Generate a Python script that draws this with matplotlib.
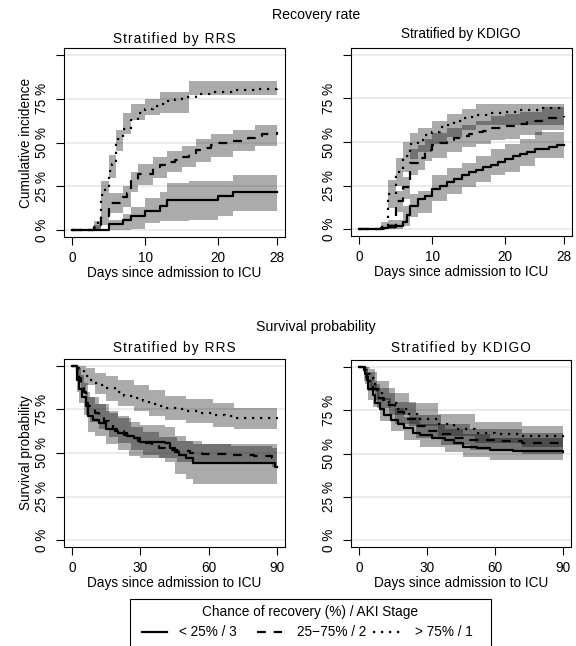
import matplotlib
matplotlib.use("Agg")
import matplotlib.pyplot as plt
from matplotlib.lines import Line2D
from matplotlib.patches import Rectangle

plt.rcParams['font.family'] = ['Liberation Sans', 'DejaVu Sans']

W, H = 576, 646

# ---- data (percent) ----
# group 1: solid (< 25% / 3), group 2: dashed (25-75% / 2), group 3: dotted (> 75% / 1)

# recovery, stratified by RRS
rr_t1 = [0, 5, 7, 8, 10, 12, 13, 20, 22, 28]
rr_v1 = [0, 3.3, 6, 8, 11, 14, 17, 19.3, 21.6, 21.6]
rr_bt1 = [5, 7, 8, 10, 12, 13, 16, 20, 22, 28]
rr_lo1 = [0, 0, 0.5, 4, 5, 5, 6, 8, 11, 11]
rr_hi1 = [6, 9, 13, 18.5, 22, 26.6, 28, 28, 31.6, 31.6]

rr_t2 = [0, 3, 4, 5, 7, 7.5, 8, 9, 11, 12, 13, 14, 15, 16, 17, 18, 19, 20, 22, 24, 25, 26, 28]
rr_v2 = [0, 1, 8, 15.5, 19, 21, 28, 32, 36, 37, 39, 40, 42, 44, 46, 47, 48.5, 49.5, 51, 52.5, 54, 55, 56]
rr_bt2 = [3, 4, 5, 7, 8, 9, 11, 13, 15, 17, 19, 22, 25, 28]
rr_lo2 = [0, 3, 10, 13, 22, 26, 30, 33, 36, 39, 42, 45, 48, 51]
rr_hi2 = [3, 12, 21, 25, 33, 38, 42, 45, 48, 52, 55, 57, 60, 61]

rr_t3 = [0, 3, 3.5, 4, 4.5, 5, 5.5, 6, 7, 8, 9, 10, 11, 12, 13, 14, 15, 17, 19, 22, 25, 28]
rr_v3 = [0, 1.5, 5, 20, 24, 34, 38, 52, 58, 63, 67, 69, 71, 72, 73.5, 75, 76, 78, 79, 80, 80.5, 81]
rr_bt3 = [3, 4, 5, 6, 7, 8, 10, 12, 16, 28]
rr_lo3 = [0, 12, 30, 45, 55, 63, 66, 67, 77, 77]
rr_hi3 = [5, 28, 43, 57, 67, 72, 75, 79, 85, 85]

# recovery, stratified by KDIGO
rk_t1 = [0, 3, 4, 5, 6, 6.5, 7, 8, 9, 10, 11, 12, 13, 14, 15, 16, 17, 18, 19, 20, 21, 22, 23, 24, 26, 27, 28]
rk_v1 = [0, 0.5, 1, 2, 4, 8, 13, 17, 19, 23, 25, 27, 28.5, 31, 33, 34, 35.5, 37, 38.5, 40, 42, 43, 44.5, 46, 47, 48, 48]
rk_bt1 = [4, 5, 6, 7, 8, 10, 12, 14, 16, 18, 20, 22, 24, 28]
rk_lo1 = [0, 0, 2, 7, 9, 16, 20, 24, 27, 31, 33, 36, 41, 41]
rk_hi1 = [3, 5, 13, 20, 22, 31, 35, 38, 42, 46, 49, 52, 55.5, 55.5]

rk_t2 = [0, 4, 5, 6, 7, 8, 9, 10, 11, 12, 13, 14, 15, 16, 17, 18, 20, 22, 23, 25, 28]
rk_v2 = [0, 2, 16, 24, 38, 41, 45.5, 48, 49.5, 51, 52.5, 53.5, 54.5, 55.5, 56.5, 58, 59, 60.5, 62, 64, 65]
rk_bt2 = [4, 5, 6, 7, 8, 9, 10, 12, 14, 16, 18, 20, 22, 25, 28]
rk_lo2 = [0, 10, 17, 31, 34, 39, 41, 44, 47, 49, 51, 52, 54, 57, 58]
rk_hi2 = [5, 22, 30, 46, 48, 52, 55, 58, 60, 62, 65, 66, 67, 70, 71]

rk_t3 = [0, 3, 4, 5, 6, 7, 8, 9, 10, 11, 12, 13, 14, 15, 16, 18, 20, 22, 25, 28]
rk_v3 = [0, 1, 20, 33, 42, 49, 51, 54, 56, 58.5, 60, 62, 63.5, 64.5, 65.5, 66.5, 67.5, 68.5, 69.5, 70]
rk_bt3 = [3, 4, 5, 6, 7, 8, 10, 12, 14, 16, 28]
rk_lo3 = [0, 12, 25, 33, 40, 44, 49, 53, 57, 60, 65]
rk_hi3 = [4, 28, 41, 50, 55, 58, 62, 66, 69, 72, 74.5]

# survival, stratified by RRS
sr_t1 = [0, 2, 3, 4.5, 6, 7, 9, 12, 15, 19, 20, 24, 27, 30, 41, 43, 45, 47, 50, 53, 89, 90]
sr_v1 = [100, 92, 87, 82, 77, 71, 69, 67.5, 64, 62.5, 61.5, 60, 58.5, 56.5, 55.5, 53, 50.5, 49, 47, 44, 42, 42]
sr_bt1 = [2, 3, 5, 7, 10, 15, 20, 25, 30, 41, 45, 50, 53, 90]
sr_lo1 = [85, 79, 72, 62, 60, 55, 52, 48, 47, 45, 38, 35, 32, 30]
sr_hi1 = [98, 95, 90, 82, 78, 74, 71, 68, 66, 65, 60, 57, 55, 55]

sr_t2 = [0, 2, 3, 4, 5, 6, 7, 8, 10, 12, 14, 16, 18, 20, 23, 26, 29, 31, 35, 38, 42, 46, 52, 57, 70, 80, 88, 90]
sr_v2 = [100, 96, 93, 90, 85, 79, 77, 75, 73, 71, 68.5, 66, 64, 62.5, 60.5, 58.5, 57, 55.5, 54, 53, 52, 51, 50, 49.5, 49, 48, 47, 47]
sr_bt2 = [2, 4, 6, 8, 12, 16, 20, 26, 31, 38, 46, 57, 70, 88, 90]
sr_lo2 = [92, 84, 72, 68, 64, 59, 56, 52, 49, 47, 45, 44, 44, 42, 42]
sr_hi2 = [99, 95, 85, 82, 78, 73, 70, 65, 62, 59, 57, 55, 54, 53, 53]

sr_t3 = [0, 2.5, 3, 5, 6, 8, 10, 12, 15, 19, 23, 27, 31, 34, 38, 41, 46, 50, 56, 62, 67, 71, 90]
sr_v3 = [100, 98.7, 98, 96, 94, 92, 90.5, 89, 87.5, 85, 83, 81.5, 80, 78, 77, 75.7, 75, 74, 73, 72, 71, 70, 69.5]
sr_bt3 = [2.5, 6, 10, 15, 20, 27, 34, 41, 50, 62, 71, 90]
sr_lo3 = [95, 89, 84, 80, 77, 74, 71, 69, 67, 65, 64, 64]
sr_hi3 = [100, 99, 96, 94, 92, 89, 86, 83, 81, 79, 76, 74]

# survival, stratified by KDIGO
sk_t1 = [0, 2.5, 3.5, 4, 6, 7, 9, 11, 14, 17, 20, 24, 27, 32, 38, 42, 46, 52, 58, 68, 90]
sk_v1 = [100, 96, 92.5, 87, 84, 79, 75.5, 72.5, 69.5, 67, 65, 62, 60.5, 59, 58, 56, 54, 53, 52, 51.4, 51]
sk_bt1 = [2.5, 4, 6, 9, 14, 20, 27, 38, 46, 58, 90]
sk_lo1 = [90, 81, 77, 69, 63, 58, 54, 51, 48, 46, 45]
sk_hi1 = [99, 93, 90, 82, 76, 71, 67, 64, 61, 59, 57]

sk_t2 = [0, 2.3, 3, 4, 6, 8, 11, 16, 20, 25, 31, 36, 42, 49, 60, 72, 90]
sk_v2 = [100, 97, 94, 91.7, 87, 82, 78, 74, 69.7, 65.8, 63, 61, 59, 58, 57, 56, 56]
sk_bt2 = [2.3, 4, 8, 16, 25, 36, 49, 72, 90]
sk_lo2 = [92, 86, 76, 67, 59, 55, 52, 50, 50]
sk_hi2 = [100, 97, 88, 80, 72, 67, 64, 62, 62]

sk_t3 = [0, 2.5, 3, 5, 7, 10, 13, 17, 22, 27, 35, 42, 51, 60, 72, 90]
sk_v3 = [100, 98, 96, 93.7, 87, 81, 79, 75.8, 72.6, 69.7, 66.8, 64, 62, 61, 60, 59]
sk_bt3 = [2.5, 5, 7, 13, 22, 35, 51, 72, 90]
sk_lo3 = [94, 88, 81, 72, 66, 60, 56, 54, 53]
sk_hi3 = [100, 99, 92, 85, 79, 73, 68, 66, 65]

y_ticks = [0, 25, 50, 75, 100]
y_labels = ['0 %', '25 %', '50 %', '75 %', '']
legend_labels = ['< 25% / 3', '25\u221275% / 2', '> 75% / 1']

styles = ['-', (0, (4, 3.5)), (0, (1, 2.6))]
FS = 9.8


def spaced(s):
    # wide letter spacing as in the original titles
    return '\u200a'.join(s)


def panel(box, curves, bands, xmax, xticks, ylabel=None):
    l, t, r, b = box
    ax = fig.add_axes([l / W, 1 - b / H, (r - l) / W, (b - t) / H])
    for bt, lo, hi in bands:
        ax.fill_between(bt, lo, hi, step='post', color='black', alpha=0.33, lw=0)
    for (tt, vv), ls in zip(curves, styles):
        ax.step(tt, vv, where='post', color='black', lw=1.6, ls=ls)
    ax.set_xlim(-0.04 * xmax, 1.04 * xmax)
    ax.set_ylim(-4, 104)
    ax.set_xticks(xticks)
    ax.set_yticks(y_ticks, labels=y_labels, rotation=90, va='center')
    ax.grid(axis='y', color='#ebebeb', lw=1.4)
    ax.set_axisbelow(True)
    ax.tick_params(length=6, width=0.8, labelsize=FS, color='black')
    ax.tick_params(axis='y', pad=5)
    ax.tick_params(axis='x', pad=4)
    for sp in ax.spines.values():
        sp.set_linewidth(0.8)
    ax.set_xlabel('Days since admission to ICU', fontsize=FS, labelpad=1)
    if ylabel:
        ax.set_ylabel(ylabel, fontsize=FS, labelpad=1)
    return ax


fig = plt.figure(figsize=(W / 100, H / 100), dpi=100)

panel((64, 48, 285, 237),
      [(rr_t1, rr_v1), (rr_t2, rr_v2), (rr_t3, rr_v3)],
      [(rr_bt1, rr_lo1, rr_hi1), (rr_bt2, rr_lo2, rr_hi2), (rr_bt3, rr_lo3, rr_hi3)],
      28, [0, 10, 20, 28], 'Cumulative incidence')
panel((351, 48, 572, 236),
      [(rk_t1, rk_v1), (rk_t2, rk_v2), (rk_t3, rk_v3)],
      [(rk_bt1, rk_lo1, rk_hi1), (rk_bt2, rk_lo2, rk_hi2), (rk_bt3, rk_lo3, rk_hi3)],
      28, [0, 10, 20, 28])
panel((64, 359, 285, 547),
      [(sr_t1, sr_v1), (sr_t2, sr_v2), (sr_t3, sr_v3)],
      [(sr_bt1, sr_lo1, sr_hi1), (sr_bt2, sr_lo2, sr_hi2), (sr_bt3, sr_lo3, sr_hi3)],
      90, [0, 30, 60, 90], 'Survival probability')
panel((351, 360, 571, 547),
      [(sk_t1, sk_v1), (sk_t2, sk_v2), (sk_t3, sk_v3)],
      [(sk_bt1, sk_lo1, sk_hi1), (sk_bt2, sk_lo2, sk_hi2), (sk_bt3, sk_lo3, sk_hi3)],
      90, [0, 30, 60, 90])


def ftext(x, y, s, **kw):
    fig.text(x / W, 1 - y / H, s, ha=kw.pop('ha', 'center'), va=kw.pop('va', 'center'),
             fontsize=kw.pop('fontsize', FS), **kw)


ftext(316, 15, 'Recovery rate', fontsize=10.2)
ftext(316, 327, 'Survival probability', fontsize=10.2)
ftext(174, 39, spaced('Stratified by RRS'))
ftext(461, 34, 'Stratified by KDIGO')
ftext(174, 348, spaced('Stratified by RRS'))
ftext(461, 348, spaced('Stratified by KDIGO'))

# legend drawn by hand so the frame runs off the bottom like the original
fig.add_artist(Rectangle((130 / W, 1 - 665 / H), 361 / W, 66 / H, transform=fig.transFigure,
                         fill=False, lw=0.8, ec='black'))
ftext(310, 612, 'Chance of recovery (%) / AKI Stage')
ly = 1 - 632 / H
for (x0, x1, tx), ls, lab in zip([(142, 167, 179), (257, 282, 297), (373, 400, 415)], styles, legend_labels):
    fig.add_artist(Line2D([x0 / W, x1 / W], [ly, ly], transform=fig.transFigure,
                          color='black', lw=1.6, ls=ls))
    ftext(tx, 632, lab, ha='left')

fig.savefig('out.png', dpi=100)
